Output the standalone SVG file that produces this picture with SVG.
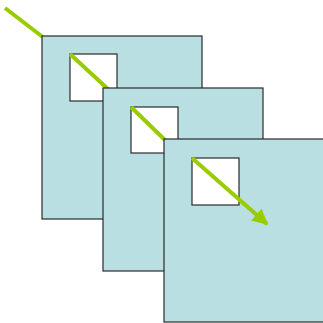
<svg xmlns="http://www.w3.org/2000/svg" width="323" height="323" viewBox="0 0 323 323">
<style>
.sheet{fill:#b9dfe2;stroke:#2a2a2a;stroke-width:1.2}
.win{fill:#ffffff;stroke:#2a2a2a;stroke-width:1.2}
.ray{stroke:#99cc00;stroke-width:4;fill:none;stroke-linecap:butt}
</style>
<defs>
<marker id="ah" viewBox="0 0 10 10" refX="9" refY="5" markerWidth="4" markerHeight="4" orient="auto" markerUnits="strokeWidth">
<path d="M0,0 L10,5 L0,10 z" fill="#99cc00"/>
</marker>
</defs>
<g id="connectors-back">
<line class="ray" x1="5" y1="8" x2="44" y2="38"/>
</g>
<g id="sheet1">
<rect class="sheet" x="42" y="36" width="160" height="183"/>
<rect class="win" x="70" y="54" width="47" height="47"/>
</g>
<g id="ray1"><line class="ray" x1="70" y1="54" x2="109" y2="90"/></g>
<g id="sheet2">
<rect class="sheet" x="103" y="88" width="160" height="183"/>
<rect class="win" x="131" y="107" width="47" height="46"/>
</g>
<g id="ray2"><line class="ray" x1="131" y1="107" x2="166" y2="141"/></g>
<g id="sheet3">
<rect class="sheet" x="164" y="139" width="160" height="183"/>
<rect class="win" x="192" y="158" width="47" height="47"/>
</g>
<g id="connectors">
<line class="ray" x1="192" y1="158" x2="267" y2="224" marker-end="url(#ah)"/>
</g>
</svg>
